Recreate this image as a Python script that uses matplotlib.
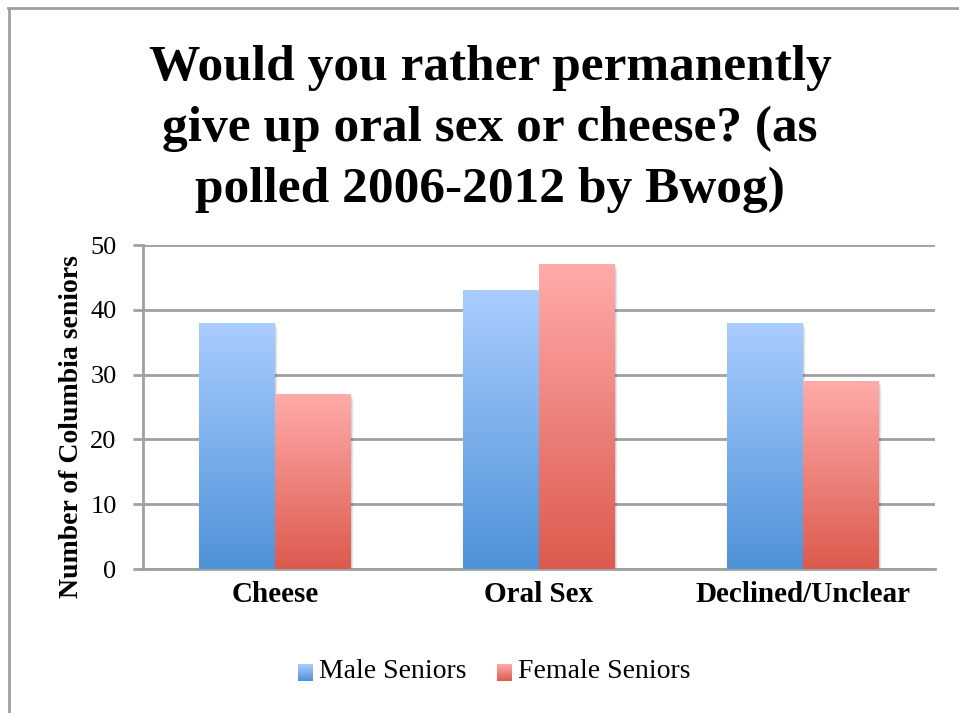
import numpy as np
import matplotlib.pyplot as plt
from matplotlib.colors import LinearSegmentedColormap
from matplotlib.patches import Rectangle

categories = ["Cheese", "Oral Sex", "Declined/Unclear"]
male = [38, 43, 38]
female = [27, 47, 29]
series = ["Male Seniors", "Female Seniors"]

title = "Would you rather permanently\ngive up oral sex or cheese? (as\npolled 2006-2012 by Bwog)"
ylabel = "Number of Columbia seniors"

blue = LinearSegmentedColormap.from_list("blue", ["#4e92d8", "#aacdff"])
red = LinearSegmentedColormap.from_list("red", ["#dc5a4e", "#ffabaa"])

plt.rcParams['font.family'] = ['Liberation Serif', 'DejaVu Serif']

W, H = 959, 713
fig = plt.figure(figsize=(W / 100, H / 100), dpi=100)
ax = fig.add_axes([143 / W, 1 - 569 / H, 792 / W, 324 / H])


def gradient_bars(bars, cmap):
    grad = np.linspace(0, 1, 256).reshape(-1, 1)
    for b in bars:
        x0, y0 = b.get_x(), b.get_y()
        w, h = b.get_width(), b.get_height()
        # soft drop shadow to the right
        for i, a in enumerate([0.10, 0.06, 0.03]):
            ax.add_patch(Rectangle((x0 + 0.004 * (i + 1), y0), w, h - 0.25 * (i + 1),
                                   facecolor="black", alpha=a, lw=0, zorder=2))
        im = ax.imshow(grad, cmap=cmap, aspect="auto", origin="lower",
                       extent=(x0, x0 + w, y0, y0 + h), zorder=3)
        im.set_clip_path(b)
        b.set_alpha(0)


x = np.arange(len(categories))
bw = 76 / 264
mb = ax.bar(x - bw / 2, male, bw, zorder=3, lw=0)
fb = ax.bar(x + bw / 2, female, bw, zorder=3, lw=0)
gradient_bars(mb, blue)
gradient_bars(fb, red)

ax.set_xlim(-0.5, 2.5)
ax.set_ylim(0, 50)
ax.set_yticks(range(0, 51, 10))
ax.yaxis.grid(True, color="#a0a0a0", lw=2)
ax.set_axisbelow(True)
for s in ["top", "right"]:
    ax.spines[s].set_visible(False)
for s in ["left", "bottom"]:
    ax.spines[s].set_color("#a0a0a0")
    ax.spines[s].set_linewidth(2)
ax.tick_params(axis="y", length=7, width=2, color="#a0a0a0", labelsize=19, pad=12)
ax.tick_params(axis="x", length=0, labelsize=21, pad=9)
ax.set_xticks(x)
ax.set_xticklabels(categories, fontweight="bold")
ax.set_ylabel(ylabel, fontsize=20, fontweight="bold")
ax.yaxis.set_label_coords(-0.075, 0.44)

fig.text(490 / W, 1 - 129 / H, title, ha="center", va="center", fontsize=37,
         fontweight="bold", linespacing=1.42)

# legend with gradient swatches
for i, (name, cmap) in enumerate([(series[0], blue), (series[1], red)]):
    lx = [298, 497][i]
    sax = fig.add_axes([lx / W, 1 - 681 / H, 15 / W, 17 / H])
    sax.imshow(np.linspace(0, 1, 64).reshape(-1, 1), cmap=cmap, aspect="auto", origin="lower")
    sax.axis("off")
    fig.text((lx + 21) / W, 1 - 672 / H, name, ha="left", va="center", fontsize=20)

# frame edges
fig.add_artist(plt.Line2D([8 / W, 1], [1 - 7.5 / H] * 2, color="#a0a0a0", lw=2))
fig.add_artist(plt.Line2D([8.5 / W] * 2, [0, 1 - 7.5 / H], color="#a0a0a0", lw=2))

fig.savefig("out.png", dpi=100)
